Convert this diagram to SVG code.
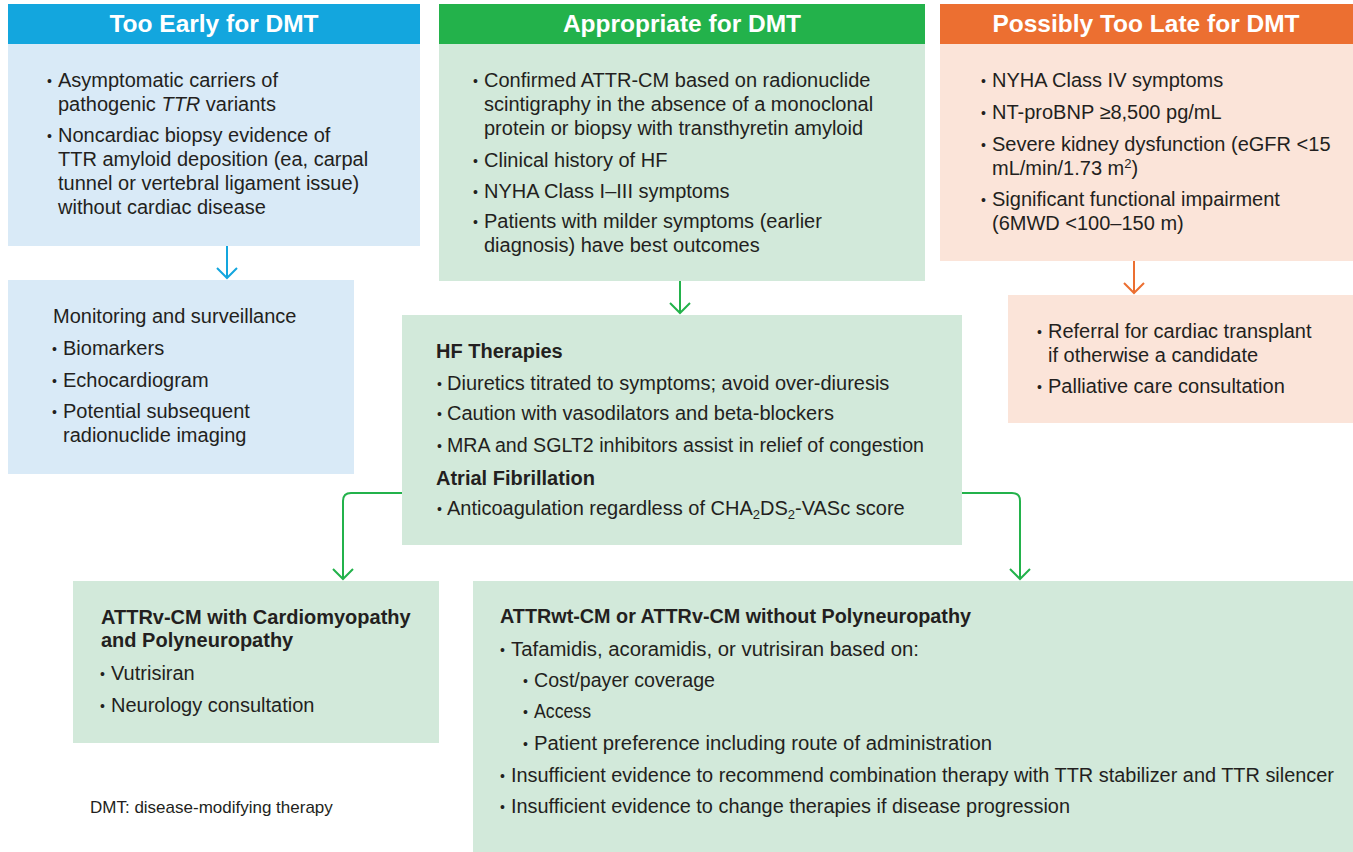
<svg xmlns="http://www.w3.org/2000/svg" width="1353" height="852" viewBox="0 0 1353 852">
<defs>
<style>
text{font-family:"Liberation Sans",Arial,sans-serif;fill:#231f20;font-size:20px}
.hd{font-size:24.5px;font-weight:bold;fill:#ffffff;text-anchor:middle}
.b{font-weight:bold}
.bu{font-size:14px}
.ft{font-size:17px}
.blue-h{fill:#13a6de}.blue-b{fill:#d9eaf7}
.green-h{fill:#23b24b}.green-b{fill:#d2e9da}
.orange-h{fill:#ec6f31}.orange-b{fill:#fbe4d9}
.conn{fill:none;stroke-width:2}
.cb{stroke:#13a6de}.cg{stroke:#23b24b}.co{stroke:#ec6f31}
</style>
</defs>

<g id="too-early">
<rect class="blue-h" x="8" y="4" width="412" height="40"/>
<rect class="blue-b" x="8" y="44" width="412" height="202"/>
<text class="hd" x="214" y="32">Too Early for DMT</text>
<text class="bu" x="47" y="86">•</text><text x="58" y="87">Asymptomatic carriers of</text>
<text x="58" y="111">pathogenic <tspan font-style="italic">TTR</tspan> variants</text>
<text class="bu" x="47" y="141">•</text><text x="58" y="142">Noncardiac biopsy evidence of</text>
<text x="58" y="166">TTR amyloid deposition (ea, carpal</text>
<text x="58" y="190">tunnel or vertebral ligament issue)</text>
<text x="58" y="214">without cardiac disease</text>
</g>

<g id="appropriate">
<rect class="green-h" x="439" y="4" width="486" height="40"/>
<rect class="green-b" x="439" y="44" width="486" height="237"/>
<text class="hd" x="682" y="32">Appropriate for DMT</text>
<text class="bu" x="473" y="86">•</text><text x="484" y="87">Confirmed ATTR-CM based on radionuclide</text>
<text x="484" y="111">scintigraphy in the absence of a monoclonal</text>
<text x="484" y="135">protein or biopsy with transthyretin amyloid</text>
<text class="bu" x="473" y="166">•</text><text x="484" y="167">Clinical history of HF</text>
<text class="bu" x="473" y="197">•</text><text x="484" y="198">NYHA Class I–III symptoms</text>
<text class="bu" x="473" y="227">•</text><text x="484" y="228">Patients with milder symptoms (earlier</text>
<text x="484" y="252">diagnosis) have best outcomes</text>
</g>

<g id="too-late">
<rect class="orange-h" x="940" y="4" width="413" height="40"/>
<rect class="orange-b" x="940" y="44" width="413" height="217"/>
<text class="hd" x="1146" y="32">Possibly Too Late for DMT</text>
<text class="bu" x="981" y="86">•</text><text x="992" y="87">NYHA Class IV symptoms</text>
<text class="bu" x="981" y="118">•</text><text x="992" y="119">NT-proBNP ≥8,500 pg/mL</text>
<text class="bu" x="981" y="150">•</text><text x="992" y="151">Severe kidney dysfunction (eGFR &lt;15</text>
<text x="992" y="175">mL/min/1.73 m<tspan font-size="13" dy="-7">2</tspan><tspan dy="7">)</tspan></text>
<text class="bu" x="981" y="205">•</text><text x="992" y="206">Significant functional impairment</text>
<text x="992" y="230">(6MWD &lt;100–150 m)</text>
</g>

<g id="monitoring">
<rect class="blue-b" x="8" y="280" width="346" height="194"/>
<text x="53" y="323">Monitoring and surveillance</text>
<text class="bu" x="52" y="354">•</text><text x="63" y="355">Biomarkers</text>
<text class="bu" x="52" y="386">•</text><text x="63" y="387">Echocardiogram</text>
<text class="bu" x="52" y="417">•</text><text x="63" y="418">Potential subsequent</text>
<text x="63" y="442">radionuclide imaging</text>
</g>

<g id="referral">
<rect class="orange-b" x="1008" y="295" width="345" height="128"/>
<text class="bu" x="1037" y="337">•</text><text x="1048" y="338">Referral for cardiac transplant</text>
<text x="1048" y="362">if otherwise a candidate</text>
<text class="bu" x="1037" y="392">•</text><text x="1048" y="393">Palliative care consultation</text>
</g>

<g id="hf-therapies">
<rect class="green-b" x="402" y="315" width="560" height="230"/>
<text class="b" x="436" y="358">HF Therapies</text>
<text class="bu" x="437" y="389">•</text><text x="447" y="390">Diuretics titrated to symptoms; avoid over-diuresis</text>
<text class="bu" x="437" y="419">•</text><text x="447" y="420">Caution with vasodilators and beta-blockers</text>
<text class="bu" x="437" y="451">•</text><text x="447" y="452" textLength="477" lengthAdjust="spacingAndGlyphs">MRA and SGLT2 inhibitors assist in relief of congestion</text>
<text class="b" x="436" y="485">Atrial Fibrillation</text>
<text class="bu" x="437" y="514">•</text><text x="447" y="515">Anticoagulation regardless of CHA<tspan font-size="13" dy="4">2</tspan><tspan dy="-4">DS</tspan><tspan font-size="13" dy="4">2</tspan><tspan dy="-4">-VASc score</tspan></text>
</g>

<g id="attrv-poly">
<rect class="green-b" x="73" y="581" width="366" height="162"/>
<text class="b" x="101" y="624">ATTRv-CM with Cardiomyopathy</text>
<text class="b" x="101" y="647">and Polyneuropathy</text>
<text class="bu" x="100" y="679">•</text><text x="111" y="680">Vutrisiran</text>
<text class="bu" x="100" y="711">•</text><text x="111" y="712">Neurology consultation</text>
</g>

<g id="attrwt">
<rect class="green-b" x="473" y="581" width="880" height="271"/>
<text class="b" x="500" y="623" textLength="471" lengthAdjust="spacingAndGlyphs">ATTRwt-CM or ATTRv-CM without Polyneuropathy</text>
<text class="bu" x="500" y="655">•</text><text x="511" y="656" textLength="408" lengthAdjust="spacingAndGlyphs">Tafamidis, acoramidis, or vutrisiran based on:</text>
<text class="bu" x="523" y="686">•</text><text x="534" y="687" textLength="181" lengthAdjust="spacingAndGlyphs">Cost/payer coverage</text>
<text class="bu" x="523" y="717">•</text><text x="534" y="718" textLength="57" lengthAdjust="spacingAndGlyphs">Access</text>
<text class="bu" x="523" y="749">•</text><text x="534" y="750" textLength="458" lengthAdjust="spacingAndGlyphs">Patient preference including route of administration</text>
<text class="bu" x="500" y="781">•</text><text x="511" y="782" textLength="823" lengthAdjust="spacingAndGlyphs">Insufficient evidence to recommend combination therapy with TTR stabilizer and TTR silencer</text>
<text class="bu" x="500" y="812">•</text><text x="511" y="813" textLength="559" lengthAdjust="spacingAndGlyphs">Insufficient evidence to change therapies if disease progression</text>
</g>

<g id="footnote">
<text class="ft" x="90" y="813">DMT: disease-modifying therapy</text>
</g>

<g id="connectors">
<path class="conn cb" d="M227,246 V278"/>
<path class="conn cb" d="M217,268 L227,278 L237,268"/>
<path class="conn cg" d="M680,281 V313"/>
<path class="conn cg" d="M670,303 L680,313 L690,303"/>
<path class="conn co" d="M1134,261 V293"/>
<path class="conn co" d="M1124,283 L1134,293 L1144,283"/>
<path class="conn cg" d="M402,493 H351 Q343,493 343,501 V579"/>
<path class="conn cg" d="M333,569 L343,579 L353,569"/>
<path class="conn cg" d="M962,493 H1012 Q1020,493 1020,501 V579"/>
<path class="conn cg" d="M1010,569 L1020,579 L1030,569"/>
</g>
</svg>
